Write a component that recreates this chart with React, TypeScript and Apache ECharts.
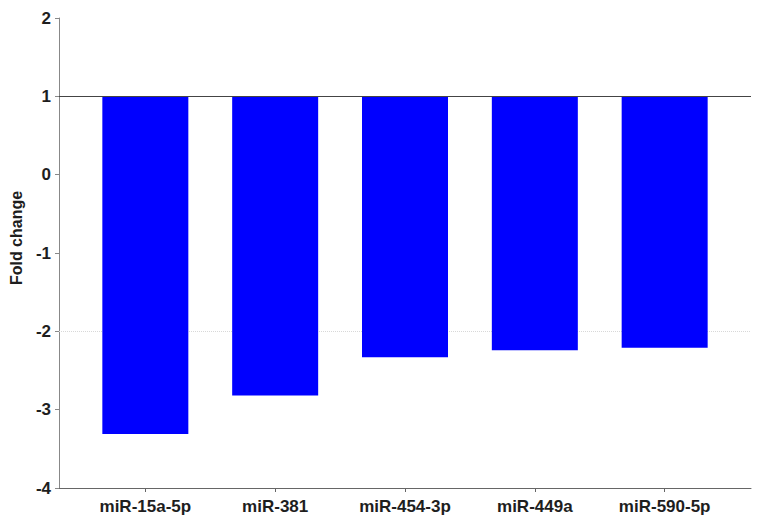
import React, { useEffect, useRef } from "react";
import * as echarts from "echarts";

const categories = ["miR-15a-5p", "miR-381", "miR-454-3p", "miR-449a", "miR-590-5p"];
const foldChange = [-3.31, -2.82, -2.33, -2.24, -2.21];
const baseline = 1;
const yTicks = { min: -4, max: 2, interval: 1 };
const referenceLine = 1;
const dottedLine = -2;

export default function App() {
  const ref = useRef<HTMLDivElement>(null);
  useEffect(() => {
    if (!ref.current) return;
    const chart = echarts.init(ref.current, null, { renderer: "svg" });
    const positions = categories.map((_, i) => i);
    const font = "Liberation Sans, Arial, Helvetica, sans-serif";
    const barWidth = 86;
    chart.setOption({
      animation: false,
      backgroundColor: "#ffffff",
      grid: { left: 59, right: 13, top: 18, bottom: 41, containLabel: false },
      xAxis: {
        type: "value",
        min: -0.665,
        max: categories.length - 1 + 0.665,
        splitLine: { show: false },
        axisLine: { show: true, onZero: false, lineStyle: { color: "#666666", width: 1 } },
        axisTick: { show: true, length: 4, customValues: positions, lineStyle: { color: "#666666" } },
        axisLabel: {
          customValues: positions,
          formatter: (v: number) => categories[Math.round(v)] ?? "",
          margin: 10,
          color: "#1e1e1e",
          fontWeight: "bold",
          fontSize: 17,
          fontFamily: font,
        },
      },
      yAxis: {
        type: "value",
        min: yTicks.min,
        max: yTicks.max,
        interval: yTicks.interval,
        name: "Fold change",
        nameLocation: "middle",
        nameGap: 32,
        nameTextStyle: {
          color: "#1e1e1e",
          fontWeight: "bold",
          fontSize: 16,
          fontFamily: font,
          padding: [0, 0, 0, 30],
        },
        splitLine: { show: false },
        axisLine: { show: true, onZero: false, lineStyle: { color: "#888888", width: 1 } },
        axisTick: { show: true, length: 4, lineStyle: { color: "#888888" } },
        axisLabel: {
          margin: 8,
          color: "#1e1e1e",
          fontWeight: "bold",
          fontSize: 17,
          fontFamily: font,
        },
      },
      series: [
        {
          type: "line",
          data: [],
          z: 1,
          silent: true,
          markLine: {
            z: 1,
            silent: true,
            symbol: ["none", "none"],
            label: { show: false },
            data: [{ yAxis: dottedLine, lineStyle: { color: "#d8d8d8", width: 1, type: "dotted" } }],
          },
        },
        {
          type: "custom",
          z: 3,
          encode: { x: 0, y: 1 },
          data: positions.map((p, i) => [p, foldChange[i]]),
          renderItem: (params: any, api: any) => {
            const top = api.coord([api.value(0), baseline]);
            const bottom = api.coord([api.value(0), api.value(1)]);
            return {
              type: "rect",
              shape: {
                x: top[0] - barWidth / 2,
                y: Math.min(top[1], bottom[1]),
                width: barWidth,
                height: Math.abs(bottom[1] - top[1]),
              },
              style: { fill: "#0000ff" },
            };
          },
        },
        {
          type: "line",
          data: [],
          z: 4,
          silent: true,
          markLine: {
            z: 6,
            silent: true,
            symbol: ["none", "none"],
            label: { show: false },
            data: [{ yAxis: referenceLine, lineStyle: { color: "#444444", width: 1, type: "solid" } }],
          },
        },
      ],
    });
    return () => chart.dispose();
  }, []);
  return (
    <div
      ref={ref}
      style={{ position: "fixed", left: 0, top: 0, width: 764, height: 529 }}
    />
  );
}
